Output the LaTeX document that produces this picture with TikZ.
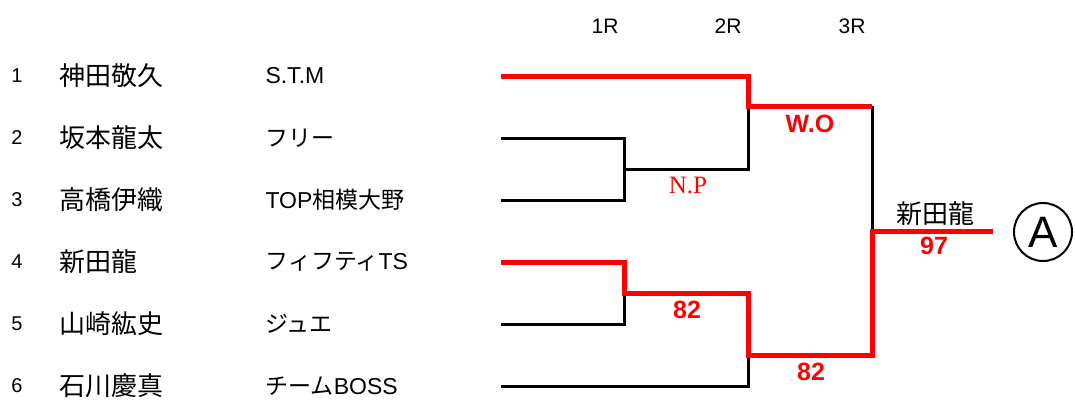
\documentclass[tikz,border=0pt]{standalone}
\usepackage{fontspec}
\setmainfont{Liberation Sans}
\newfontfamily\jfont{Noto Sans CJK JP}
\newfontfamily\rfont{Liberation Serif}

\tikzset{
    num/.style={inner sep=0pt, font=\fontsize{20}{20}\selectfont},
    player/.style={anchor=west, inner sep=0pt, font=\fontsize{26}{26}\selectfont\jfont},
    team/.style={anchor=west, inner sep=0pt, font=\fontsize{23}{23}\selectfont},
    round/.style={inner sep=0pt, font=\fontsize{21}{21}\selectfont},
    score/.style={inner sep=0pt, text=red, font=\fontsize{25}{25}\selectfont\bfseries},
    win/.style={red, line width=5pt}
}

\begin{document}
\begin{tikzpicture}[x=1pt, y=-1pt, line width=3pt]
    \useasboundingbox (0,0) rectangle (1075,399);

        \node[round] (r1) at (605, 26){1R};
        \node[round] (r2) at (728, 26){2R};
        \node[round] (r3) at (852, 26){3R};

        % entries
        \node[num] (n1) at (17, 76){1};
        \node[player] (a1) at (58, 76){神田敬久};
        \node[team] (t1) at (264, 76){S.T.M};
        \node[num] (n2) at (17, 138){2};
        \node[player] (a2) at (58, 138){坂本龍太};
        \node[team] (t2) at (264, 138){\jfont フリー};
        \node[num] (n3) at (17, 200){3};
        \node[player] (a3) at (58, 200){高橋伊織};
        \node[team] (t3) at (264, 200){TOP\jfont 相模大野};
        \node[num] (n4) at (17, 262){4};
        \node[player] (a4) at (58, 262){新田龍};
        \node[team] (t4) at (264, 262){{\jfont フィフティ}TS};
        \node[num] (n5) at (17, 324){5};
        \node[player] (a5) at (58, 324){山崎紘史};
        \node[team] (t5) at (264, 324){\jfont ジュエ};
        \node[num] (n6) at (17, 386){6};
        \node[player] (a6) at (58, 386){石川慶真};
        \node[team] (t6) at (264, 386){{\jfont チーム}BOSS};

        \coordinate (p1) at (501, 76);
        \coordinate (p2) at (501, 138);
        \coordinate (p3) at (501, 200);
        \coordinate (p4) at (501, 262);
        \coordinate (p5) at (501, 324);
        \coordinate (p6) at (501, 386);
        \coordinate (m23) at (624, 169);
        \coordinate (m45) at (624, 293);
        \coordinate (m1) at (748, 106);
        \coordinate (m6) at (748, 355);
        \coordinate (fin) at (872, 231);
        \coordinate (champ) at (993, 231);

        % bracket
        \draw (p2) -| (m23) |- (p3);
        \draw (m23) -| (m1);
        \draw (p5) -| (m45);
        \draw (p6) -| (m6);
        \draw (m1 -| fin) -- (fin);

        \draw[win] (p1) -| (m1) -- (m1 -| fin);
        \draw[win] (p4) -| (m45) -| (m6) -| (fin) -- (champ);

        % results
        \node[score, font=\fontsize{25}{25}\selectfont\rfont] (np) at (688, 185){N.P};
        \node[score] (wo) at (810, 124){W.O};
        \node[score] (s45) at (687, 310){82};
        \node[score] (s6) at (811, 372){82};
        \node[score] (s97) at (934, 246){97};
        \node[player, anchor=center] (champname) at (935, 214){新田龍};
        \node[circle, draw, line width=2pt, minimum size=58pt, inner sep=0pt,
              font=\fontsize{44}{44}\selectfont] (blockA) at (1043, 232){A};
\end{tikzpicture}
\end{document}
